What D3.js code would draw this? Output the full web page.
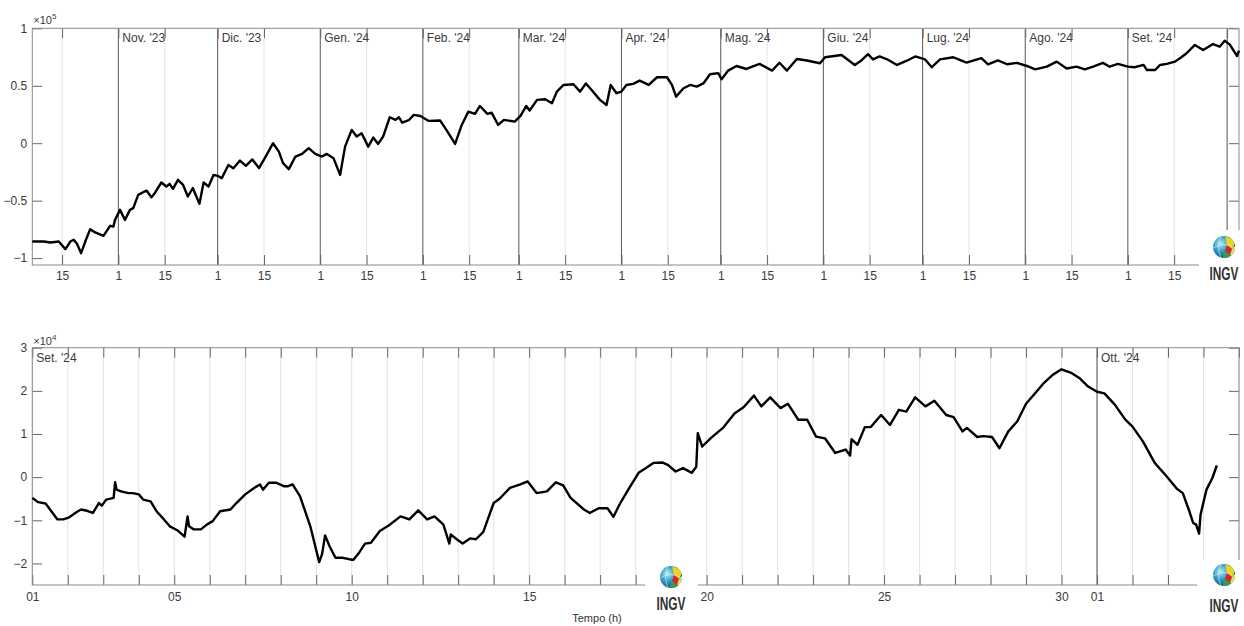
<!DOCTYPE html>
<html>
<head>
<meta charset="utf-8">
<script src="https://cdn.jsdelivr.net/npm/d3@7"></script>
<style>
body { margin: 0; background: #fff; }
svg text { font-family: "Liberation Sans", Arial, sans-serif; fill: #3a3a3a; }
</style>
</head>
<body>
<div id="chart"></div>
<script>
// Dati: serie annuale (pannello alto)
const yearDates = [
  "2023-10-06 00","2023-10-09 12","2023-10-11 12","2023-10-14 00","2023-10-16 00","2023-10-17 12","2023-10-18 12","2023-10-19 12",
  "2023-10-20 18","2023-10-22 00","2023-10-23 12","2023-10-25 00","2023-10-27 12","2023-10-29 12","2023-10-30 12","2023-10-31 00",
  "2023-11-01 12","2023-11-03 00","2023-11-04 12","2023-11-05 12","2023-11-07 00","2023-11-09 12","2023-11-11 00","2023-11-12 00",
  "2023-11-14 00","2023-11-15 12","2023-11-16 12","2023-11-17 12","2023-11-19 00","2023-11-20 12","2023-11-22 00","2023-11-23 12",
  "2023-11-25 12","2023-11-26 18","2023-11-28 06","2023-11-29 18","2023-12-01 06","2023-12-02 06","2023-12-04 06","2023-12-05 18",
  "2023-12-07 18","2023-12-09 12","2023-12-11 12","2023-12-13 12","2023-12-15 12","2023-12-17 18","2023-12-19 12","2023-12-20 18",
  "2023-12-22 12","2023-12-24 12","2023-12-26 12","2023-12-28 12","2023-12-30 12","2024-01-01 12","2024-01-03 00","2024-01-05 00",
  "2024-01-07 00","2024-01-08 12","2024-01-10 12","2024-01-12 00","2024-01-13 12","2024-01-15 12","2024-01-17 00","2024-01-18 12",
  "2024-01-20 00","2024-01-22 00","2024-01-23 18","2024-01-24 18","2024-01-25 18","2024-01-27 18","2024-01-29 06","2024-01-31 06",
  "2024-02-02 18","2024-02-06 06","2024-02-08 06","2024-02-10 18","2024-02-12 18","2024-02-14 18","2024-02-16 18","2024-02-18 06",
  "2024-02-20 12","2024-02-21 18","2024-02-23 18","2024-02-25 12","2024-02-28 18","2024-03-01 12","2024-03-03 06","2024-03-04 06",
  "2024-03-06 12","2024-03-09 00","2024-03-11 00","2024-03-12 12","2024-03-14 12","2024-03-17 12","2024-03-19 12","2024-03-21 06",
  "2024-03-23 00","2024-03-25 12","2024-03-27 12","2024-03-28 18","2024-03-30 12","2024-04-01 00","2024-04-02 12","2024-04-04 12",
  "2024-04-06 12","2024-04-09 06","2024-04-11 18","2024-04-14 18","2024-04-16 06","2024-04-17 12","2024-04-19 18","2024-04-21 18",
  "2024-04-23 18","2024-04-25 18","2024-04-27 18","2024-04-30 06","2024-05-01 06","2024-05-03 06","2024-05-05 18","2024-05-08 18",
  "2024-05-12 18","2024-05-16 12","2024-05-18 18","2024-05-21 00","2024-05-24 00","2024-05-27 00","2024-05-31 00","2024-06-01 12",
  "2024-06-06 12","2024-06-10 12","2024-06-12 12","2024-06-14 12","2024-06-16 00","2024-06-18 00","2024-06-20 06","2024-06-23 06",
  "2024-06-26 06","2024-06-28 18","2024-07-01 18","2024-07-03 18","2024-07-06 06","2024-07-10 06","2024-07-14 06","2024-07-18 18",
  "2024-07-20 18","2024-07-23 18","2024-07-26 12","2024-07-29 12","2024-08-01 12","2024-08-04 00","2024-08-07 12","2024-08-10 12",
  "2024-08-13 12","2024-08-16 12","2024-08-19 00","2024-08-21 12","2024-08-24 12","2024-08-26 12","2024-08-29 00","2024-09-01 00",
  "2024-09-03 00","2024-09-05 18","2024-09-06 18","2024-09-09 06","2024-09-10 18","2024-09-12 18","2024-09-15 06","2024-09-16 18",
  "2024-09-18 18","2024-09-21 06","2024-09-23 18","2024-09-26 18","2024-09-28 18","2024-09-30 06","2024-10-01 18","2024-10-04 00",
  "2024-10-04 14"
]
const yearValues = [
  -85600,-85600,-86400,-85600,-92200,-85600,-84000,-87600,
  -95700,-85600,-74800,-77700,-80600,-71900,-72500,-66700,
  -58000,-66700,-58000,-56500,-45000,-41200,-47000,-43500,
  -34200,-37700,-35400,-39700,-31900,-36000,-46400,-39000,
  -52800,-34200,-37700,-27600,-28700,-30400,-18900,-21800,
  -15100,-19700,-14100,-21700,-11600,0,-7300,-17400,
  -22600,-11600,-9300,-4300,-9300,-11600,-9300,-13000,
  -27600,-3000,11600,5800,8700,-3000,4900,-600,
  5800,22600,20300,22600,17900,20000,24600,23700,
  19400,19700,11000,-600,15900,27500,25500,32400,
  25500,26600,15900,20300,18800,23700,32400,28400,
  37700,38300,34800,44900,50700,51300,44900,52000,
  46300,37700,33300,50700,43500,44900,50700,51600,
  54500,50700,57400,57400,50700,40500,47800,50700,
  49300,52000,60000,61000,55700,63200,67200,64600,
  69000,63200,70000,63200,73300,72000,69600,74800,
  76800,68100,72000,77500,73000,75500,73000,68100,
  71800,75500,72900,66100,72900,74800,70100,74000,
  68700,72000,68700,69900,67200,64300,66600,71000,
  65000,66600,64300,66600,69900,66600,69000,66600,
  66100,68100,63700,63700,68100,69000,71000,73900,
  78300,85500,81100,86300,84000,89200,86000,75900,
  80500
]
const yearDomain = ["2023-10-06 00", "2024-10-04 14"]
const monthStarts = ["2023-11-01 00","2023-12-01 00","2024-01-01 00","2024-02-01 00","2024-03-01 00","2024-04-01 00",
  "2024-05-01 00","2024-06-01 00","2024-07-01 00","2024-08-01 00","2024-09-01 00","2024-10-01 00"]
const monthNames = ["Nov. '23","Dic. '23","Gen. '24","Feb. '24","Mar. '24","Apr. '24","Mag. '24","Giu. '24","Lug. '24","Ago. '24","Set. '24",""]
const yearTicksY = [-100000, -50000, 0, 50000, 100000]
const yearLabelEnd = "2024-09-30 00"

// Dati: ultimo mese (pannello basso)
const hourDates = [
  "2024-09-01 00","2024-09-01 04","2024-09-01 09","2024-09-01 12","2024-09-01 17","2024-09-01 21","2024-09-02 01","2024-09-02 06",
  "2024-09-02 09","2024-09-02 13","2024-09-02 17","2024-09-02 21","2024-09-02 23","2024-09-03 02","2024-09-03 07","2024-09-03 08",
  "2024-09-03 09","2024-09-03 12","2024-09-03 17","2024-09-03 20","2024-09-04 00","2024-09-04 03","2024-09-04 08","2024-09-04 12",
  "2024-09-04 17","2024-09-04 21","2024-09-05 02","2024-09-05 07","2024-09-05 09","2024-09-05 10","2024-09-05 13","2024-09-05 18",
  "2024-09-05 22","2024-09-06 02","2024-09-06 07","2024-09-06 14","2024-09-06 18","2024-09-07 00","2024-09-07 06","2024-09-07 10",
  "2024-09-07 12","2024-09-07 16","2024-09-07 21","2024-09-08 02","2024-09-08 05","2024-09-08 08","2024-09-08 13","2024-09-08 20",
  "2024-09-09 02","2024-09-09 04","2024-09-09 06","2024-09-09 09","2024-09-09 13","2024-09-09 18","2024-09-10 01","2024-09-10 05",
  "2024-09-10 09","2024-09-10 13","2024-09-10 19","2024-09-11 01","2024-09-11 09","2024-09-11 15","2024-09-11 21","2024-09-12 03",
  "2024-09-12 08","2024-09-12 14","2024-09-12 18","2024-09-12 19","2024-09-12 23","2024-09-13 03","2024-09-13 08","2024-09-13 12",
  "2024-09-13 17","2024-09-13 20","2024-09-14 00","2024-09-14 04","2024-09-14 11","2024-09-14 18","2024-09-14 23","2024-09-15 05",
  "2024-09-15 12","2024-09-15 18","2024-09-15 23","2024-09-16 04","2024-09-16 13","2024-09-16 17","2024-09-16 23","2024-09-17 05",
  "2024-09-17 09","2024-09-17 13","2024-09-17 19","2024-09-18 02","2024-09-18 07","2024-09-18 12","2024-09-18 18","2024-09-18 22",
  "2024-09-19 03","2024-09-19 08","2024-09-19 14","2024-09-19 17","2024-09-19 18","2024-09-19 21","2024-09-20 03","2024-09-20 11",
  "2024-09-20 19","2024-09-21 01","2024-09-21 08","2024-09-21 13","2024-09-21 19","2024-09-22 02","2024-09-22 07","2024-09-22 14",
  "2024-09-22 20","2024-09-23 02","2024-09-23 08","2024-09-23 15","2024-09-23 22","2024-09-24 01","2024-09-24 02","2024-09-24 06",
  "2024-09-24 11","2024-09-24 15","2024-09-24 22","2024-09-25 04","2024-09-25 10","2024-09-25 15","2024-09-25 21","2024-09-26 04",
  "2024-09-26 10","2024-09-26 18","2024-09-26 23","2024-09-27 05","2024-09-27 08","2024-09-27 15","2024-09-27 19","2024-09-28 01",
  "2024-09-28 06","2024-09-28 12","2024-09-28 18","2024-09-29 00","2024-09-29 07","2024-09-29 12","2024-09-29 18","2024-09-30 00",
  "2024-09-30 07","2024-09-30 12","2024-09-30 18","2024-10-01 00","2024-10-01 05","2024-10-01 12","2024-10-01 19","2024-10-02 00",
  "2024-10-02 07","2024-10-02 15","2024-10-02 23","2024-10-03 06","2024-10-03 10","2024-10-03 14","2024-10-03 17","2024-10-03 19",
  "2024-10-03 21","2024-10-03 22","2024-10-04 02","2024-10-04 06","2024-10-04 09"
]
const hourValues = [
  -4800,-5800,-6100,-7500,-9800,-9800,-9300,-8100,
  -7500,-7800,-8300,-6000,-6600,-5200,-4800,-1200,
  -2900,-3300,-3700,-3700,-4000,-5200,-5600,-7900,
  -9800,-11400,-12300,-13800,-9100,-11400,-12100,-12100,
  -11000,-10200,-7900,-7500,-6000,-4000,-2500,-1700,
  -2900,-1300,-1300,-2100,-2100,-1700,-4400,-11400,
  -19700,-17800,-13500,-16000,-18700,-18700,-19200,-17500,
  -15400,-15200,-12500,-11200,-9100,-9800,-7700,-9800,
  -9100,-11000,-15400,-13300,-14400,-15400,-14200,-14400,
  -12700,-9800,-6000,-5000,-2500,-1700,-1000,-3700,
  -3300,-1200,-1900,-4800,-7500,-8300,-7200,-7200,
  -9200,-6400,-2900,1000,2100,3300,3400,2800,
  1300,2100,1000,2400,10200,7100,9100,11400,
  14800,16200,18900,16400,18500,16000,17000,13300,
  13300,9400,9000,5600,6400,5000,8800,7500,
  11600,11600,14400,12100,15600,15200,18500,16400,
  17700,14400,13900,10600,11400,9300,9500,9300,
  6700,10600,12900,17000,19800,21800,23700,25000,
  24100,23000,21000,19800,19400,16800,13400,11700,
  8300,3300,200,-2700,-3700,-7500,-10600,-11000,
  -13100,-8700,-2900,-200,2700
]
const hourDomain = ["2024-09-01 00", "2024-10-05 00"]
const hourLabelDays = [1, 5, 10, 15, 20, 25, 30]
const hourMonthStarts = ["2024-09-01 00", "2024-10-01 00"]
const hourMonthNames = ["Set. '24", "Ott. '24"]
const hourTicksY = [-20000, -10000, 0, 10000, 20000, 30000]

// Costanti
const width = 1244
const height = 626
const plotL = 32.3
const plotR = 1239
const panel1 = { top: 28.3, bottom: 265 }
const panel2 = { top: 347.7, bottom: 585 }
const parse = d3.utcParse("%Y-%m-%d %H")
var logoId = 0

const svg = d3.select("div#chart")
  .append("svg")
  .attr("width", width)
  .attr("height", height)

const defs = svg.append("defs")

// Scale
const x1 = d3.scaleUtc().domain(yearDomain.map(parse)).range([plotL, plotR])
const y1 = d3.scaleLinear().domain([-106000, 100000]).range([panel1.bottom, panel1.top])
const x2 = d3.scaleUtc().domain(hourDomain.map(parse)).range([plotL, plotR])
const y2 = d3.scaleLinear().domain([-25000, 30000]).range([panel2.bottom, panel2.top])

// Pannello alto
const g1 = svg.append("g").attr("class", "panel1")
const yearTicksX = d3.utcDay.range(x1.domain()[0], x1.domain()[1])
  .filter(d => d.getUTCDate() === 1 || d.getUTCDate() === 15)

g1.selectAll("line.grid15")
  .data(yearTicksX.filter(d => d.getUTCDate() === 15))
  .enter().append("line")
  .attr("x1", d => x1(d)).attr("x2", d => x1(d))
  .attr("y1", panel1.top).attr("y2", panel1.bottom)
  .attr("stroke", "#e2e2e2").attr("stroke-width", 1)

g1.selectAll("line.month")
  .data(monthStarts.map(parse))
  .enter().append("line")
  .attr("x1", d => x1(d)).attr("x2", d => x1(d))
  .attr("y1", panel1.top).attr("y2", panel1.bottom)
  .attr("stroke", "#555").attr("stroke-width", 1)

g1.selectAll("text.month")
  .data(monthStarts.map(parse))
  .enter().append("text")
  .attr("x", d => x1(d) + 4)
  .attr("y", panel1.top + 14)
  .attr("font-size", 12)
  .text((d, i) => monthNames[i])

const yearFmt = d => d < parse(yearLabelEnd) ? d3.utcFormat("%-d")(d) : ""
axesFor(g1, x1, y1, panel1, yearTicksX, yearFmt, yearTicksY, v => d3.format("")(v / 1e5), 6)

const line1 = d3.line().x((d, i) => x1(parse(yearDates[i]))).y(d => y1(d))
g1.append("path")
  .datum(yearValues)
  .attr("d", line1)
  .attr("fill", "none")
  .attr("stroke", "#000")
  .attr("stroke-width", 2.4)
  .attr("stroke-linejoin", "round")

exponent(g1, panel1.top - 4, "5")

// Pannello basso
const g2 = svg.append("g").attr("class", "panel2")
const hourTicksX = d3.utcDay.range(x2.domain()[0], d3.utcDay.offset(x2.domain()[1], 1))

g2.selectAll("line.grid")
  .data(hourTicksX)
  .enter().append("line")
  .attr("x1", d => x2(d)).attr("x2", d => x2(d))
  .attr("y1", panel2.top).attr("y2", panel2.bottom)
  .attr("stroke", "#e2e2e2").attr("stroke-width", 1)

g2.selectAll("line.month")
  .data(hourMonthStarts.slice(1).map(parse))
  .enter().append("line")
  .attr("x1", d => x2(d)).attr("x2", d => x2(d))
  .attr("y1", panel2.top).attr("y2", panel2.bottom)
  .attr("stroke", "#555").attr("stroke-width", 1)

g2.selectAll("text.month")
  .data(hourMonthStarts.map(parse))
  .enter().append("text")
  .attr("x", d => x2(d) + 4)
  .attr("y", panel2.top + 14)
  .attr("font-size", 12)
  .text((d, i) => hourMonthNames[i])

const hourFmt = d => (hourLabelDays.includes(d.getUTCDate()) && d.getUTCMonth() === 8) || (d.getUTCDate() === 1)
  ? d3.utcFormat("%d")(d) : ""
axesFor(g2, x2, y2, panel2, hourTicksX, hourFmt, hourTicksY, v => d3.format("")(v / 1e4), 7)

const line2 = d3.line().x((d, i) => x2(parse(hourDates[i]))).y(d => y2(d))
g2.append("path")
  .datum(hourValues)
  .attr("d", line2)
  .attr("fill", "none")
  .attr("stroke", "#000")
  .attr("stroke-width", 2.4)
  .attr("stroke-linejoin", "round")

exponent(g2, panel2.top - 3, "4")

svg.append("text")
  .attr("x", 597).attr("y", 622)
  .attr("text-anchor", "middle")
  .attr("font-size", 11)
  .style("fill", "#333")
  .text("Tempo (h)")

// Loghi INGV
logo(1199, 230, 45, 60, 1224, 247, 1224, 280)
logo(645, 560, 53, 66, 671, 577, 671, 610)
logo(1197, 560, 47, 66, 1224, 575, 1224, 612)

// funzioni
function axesFor(g, x, y, p, ticksX, fmtX, ticksY, fmtY, padX) {
  const xb = d3.axisBottom(x).tickValues(ticksX).tickFormat(fmtX).tickSizeInner(-10).tickSizeOuter(0).tickPadding(padX)
  const xt = d3.axisTop(x).tickValues(ticksX).tickFormat("").tickSizeInner(-10).tickSizeOuter(0)
  const yl = d3.axisLeft(y).tickValues(ticksY).tickFormat(fmtY).tickSizeInner(-10).tickSizeOuter(0).tickPadding(5)
  const yr = d3.axisRight(y).tickValues(ticksY).tickFormat("").tickSizeInner(-10).tickSizeOuter(0)
  const ag = g.append("g").attr("class", "axisGroup")
  ag.append("g").attr("transform", `translate(0,${p.bottom})`).call(xb)
  ag.append("g").attr("transform", `translate(0,${p.top})`).call(xt)
  ag.append("g").attr("transform", `translate(${plotL},0)`).call(yl)
  ag.append("g").attr("transform", `translate(${plotR},0)`).call(yr)
  ag.selectAll(".domain").remove()
  ag.selectAll(".tick line").attr("stroke", "#666")
  ag.selectAll(".tick text").attr("font-size", 12).attr("font-family", null).style("fill", "#3a3a3a")
  g.append("rect")
    .attr("x", plotL).attr("y", p.top)
    .attr("width", plotR - plotL).attr("height", p.bottom - p.top)
    .attr("fill", "none").attr("stroke", "#8a8a8a").attr("stroke-width", 1)
}

function exponent(g, yBase, power) {
  const t = g.append("text").attr("x", plotL + 1).attr("y", yBase).attr("font-size", 11)
  t.append("tspan").text("\u00d710")
  t.append("tspan").attr("dy", -5).attr("font-size", 8).text(power)
}

function logo(bx, by, bw, bh, cx, cy, tx, ty) {
  logoId++
  const lg = svg.append("g").attr("class", "logo")
  lg.append("rect").attr("x", bx).attr("y", by).attr("width", bw).attr("height", bh).attr("fill", "#fff")
  const grad = defs.append("radialGradient").attr("id", "glob" + logoId)
    .attr("cx", "35%").attr("cy", "35%").attr("r", "70%")
  grad.append("stop").attr("offset", "0%").attr("stop-color", "#b8eef5")
  grad.append("stop").attr("offset", "45%").attr("stop-color", "#3aa3c8")
  grad.append("stop").attr("offset", "100%").attr("stop-color", "#0e4e86")
  defs.append("clipPath").attr("id", "clip" + logoId)
    .append("circle").attr("cx", cx).attr("cy", cy).attr("r", 11)
  lg.append("circle").attr("cx", cx).attr("cy", cy).attr("r", 11).attr("fill", `url(#glob${logoId})`)
  const patch = lg.append("g").attr("clip-path", `url(#clip${logoId})`)
  patch.append("path").attr("d", `M${cx + 1},${cy - 11} L${cx + 12},${cy - 6} L${cx + 8},${cy + 2} L${cx + 3},${cy - 2} Z`).attr("fill", "#f2d21c")
  patch.append("path").attr("d", `M${cx + 3},${cy - 2} L${cx + 8},${cy + 2} L${cx + 6},${cy + 8} L${cx + 1},${cy + 4} Z`).attr("fill", "#d8262a")
  patch.append("path").attr("d", `M${cx + 8},${cy + 2} L${cx + 12},${cy - 2} L${cx + 12},${cy + 8} L${cx + 6},${cy + 8} Z`).attr("fill", "#e9e05a")
  patch.append("path").attr("d", `M${cx + 1},${cy + 4} L${cx + 6},${cy + 8} L${cx + 4},${cy + 12} L${cx - 2},${cy + 12} Z`).attr("fill", "#3d9c3f")
  patch.append("path").attr("d", `M${cx - 11},${cy + 1} Q${cx},${cy - 6} ${cx + 11},${cy + 1}`).attr("fill", "none").attr("stroke", "#d9f3f8").attr("stroke-width", 0.6)
  patch.append("path").attr("d", `M${cx - 3},${cy - 11} Q${cx - 8},${cy} ${cx - 3},${cy + 11}`).attr("fill", "none").attr("stroke", "#d9f3f8").attr("stroke-width", 0.6)
  // testo condensato tramite scala orizzontale
  lg.append("text")
    .attr("transform", `translate(${tx},${ty}) scale(0.66,1)`)
    .attr("text-anchor", "middle")
    .attr("font-family", "'DejaVu Sans', sans-serif")
    .attr("font-weight", "bold")
    .attr("font-size", 18)
    .style("fill", "#333")
    .text("INGV")
}
</script>
</body>
</html>
